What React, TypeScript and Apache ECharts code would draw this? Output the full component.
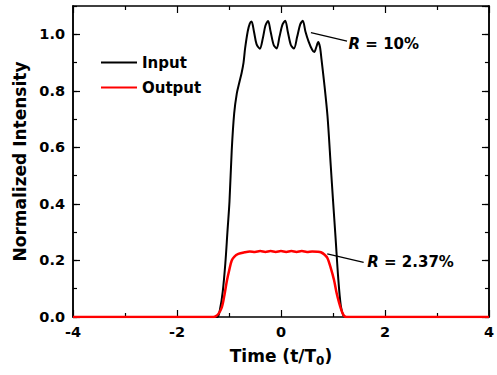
import React, { useEffect, useRef } from "react";
import * as echarts from "echarts";

const FONT = "'DejaVu Sans', 'Liberation Sans', Arial, sans-serif";

const seriesNames = ["Input", "Output"];
const xTickValues = [-4, -2, 0, 2, 4];

const timeInput = [
  -4, -1.3, -1.22, -1.17, -1.12, -1.07, -1.03, -0.99, -0.947, -0.9, -0.85, -0.8,
  -0.756, -0.72, -0.69, -0.64, -0.6, -0.566, -0.52, -0.47, -0.407, -0.35, -0.3,
  -0.248, -0.2, -0.14, -0.083, -0.03, 0.03, 0.082, 0.13, 0.19, 0.25, 0.31, 0.37,
  0.419, 0.47, 0.53, 0.6, 0.64, 0.68, 0.716, 0.75, 0.78, 0.83, 0.895, 0.958, 1.0,
  1.05, 1.1, 1.15, 1.2, 1.25, 4,
];
const intensityInput = [
  0, 0, 0.0, 0.03, 0.09, 0.19, 0.3, 0.41, 0.59, 0.72, 0.79, 0.83,
  0.864, 0.9, 0.95, 1.01, 1.038, 1.045, 1.01, 0.965, 0.949, 0.985, 1.03,
  1.047, 1.01, 0.962, 0.95, 0.99, 1.035, 1.048, 1.01, 0.962, 0.95, 0.99, 1.035,
  1.048, 1.01, 0.975, 0.945, 0.937, 0.955, 0.973, 0.955, 0.91, 0.83, 0.71, 0.533, 0.415,
  0.28, 0.14, 0.04, 0.005, 0, 0,
];

const timeOutput = [
  -4, -1.3, -1.25, -1.2, -1.14, -1.09, -1.04, -0.99, -0.947, -0.9, -0.82, -0.7,
  -0.6, -0.5, -0.4, -0.3, -0.2, -0.1, 0, 0.1, 0.2, 0.3, 0.4, 0.5, 0.6, 0.7,
  0.768, 0.84, 0.895, 0.95, 1.02, 1.07, 1.12, 1.17, 1.21, 1.26, 4,
];
const intensityOutput = [
  0, 0, 0.003, 0.012, 0.033, 0.075, 0.128, 0.17, 0.2, 0.213, 0.223, 0.229,
  0.232, 0.23, 0.233, 0.23, 0.233, 0.23, 0.233, 0.23, 0.233, 0.23, 0.233, 0.23, 0.232, 0.231,
  0.229, 0.22, 0.208, 0.178, 0.131, 0.085, 0.049, 0.02, 0.005, 0, 0,
];

const annotationLabels = ["10%", "2.37%"];
const annotationFrom = [[0.576, 1.006], [0.89, 0.223]];
const annotationTo = [[1.27, 0.976], [1.59, 0.193]];
const annotationText = [[1.3, 0.965], [1.66, 0.195]];

export default function App() {
  const ref = useRef<HTMLDivElement>(null);
  useEffect(() => {
    if (!ref.current) return;
    const chart = echarts.init(ref.current, undefined, { renderer: "svg" });
    const axisLine = { show: true, onZero: false, lineStyle: { color: "#000", width: 1.5 } };
    const tickLine = { color: "#000", width: 1.2 };
    const labelStyle = { fontSize: 14.5, fontWeight: "bold" as const, color: "#000", fontFamily: FONT };
    const xCommon = {
      type: "value" as const,
      min: -4,
      max: 4,
      interval: 2,
      axisLine,
      axisTick: { show: true, inside: true, length: 7, lineStyle: tickLine },
      minorTick: { show: true, splitNumber: 2, length: 4, lineStyle: tickLine },
      splitLine: { show: false },
      minorSplitLine: { show: false },
    };
    const yMajor = {
      type: "value" as const,
      min: 0,
      max: 1.1,
      interval: 0.2,
      axisLine,
      axisTick: { show: true, inside: true, length: 7, lineStyle: tickLine },
      splitLine: { show: false },
    };
    const yMinor = {
      type: "value" as const,
      min: 0,
      max: 1.1,
      interval: 0.1,
      axisLine,
      axisTick: { show: true, inside: true, length: 4, lineStyle: tickLine },
      axisLabel: { show: false },
      splitLine: { show: false },
    };
    chart.setOption({
      animation: false,
      backgroundColor: "#fff",
      textStyle: { fontFamily: FONT },
      grid: { left: 73, right: 3, top: 6, bottom: 58 },
      legend: {
        data: seriesNames,
        orient: "vertical",
        left: 100,
        top: 55,
        padding: 0,
        itemWidth: 36,
        itemHeight: 14,
        itemGap: 10,
        itemStyle: { opacity: 0 },
        textStyle: { fontSize: 15, fontWeight: "bold", color: "#000", fontFamily: FONT },
      },
      xAxis: [
        {
          ...xCommon,
          position: "bottom",
          axisLabel: {
            ...labelStyle,
            margin: 7,
            customValues: xTickValues,
            formatter: (v: number) => String(v),
          },
          name: "Time (t/T{sub|0})",
          nameLocation: "middle",
          nameGap: 28,
          nameTextStyle: {
            fontSize: 17,
            fontWeight: "bold",
            color: "#000",
            fontFamily: FONT,
            rich: {
              sub: { fontSize: 12, fontWeight: "bold", color: "#000", fontFamily: FONT, padding: [10, 0, 0, 0] },
            },
          },
        },
        { ...xCommon, position: "top", axisLabel: { show: false } },
      ],
      yAxis: [
        {
          ...yMajor,
          position: "left",
          axisLabel: {
            ...labelStyle,
            margin: 8,
            showMaxLabel: false,
            formatter: (v: number) => (Math.abs(v - 1.1) < 1e-6 ? "" : v.toFixed(1)),
          },
          name: "Normalized Intensity",
          nameLocation: "middle",
          nameGap: 43,
          nameTextStyle: { fontSize: 17, fontWeight: "bold", color: "#000", fontFamily: FONT },
        },
        { ...yMinor, position: "left" },
        { ...yMajor, position: "right", axisLabel: { show: false } },
        { ...yMinor, position: "right" },
      ],
      series: [
        {
          name: seriesNames[0],
          type: "line",
          xAxisIndex: 0,
          yAxisIndex: 0,
          symbol: "none",
          showSymbol: false,
          smooth: 0.3,
          lineStyle: { color: "#000", width: 2 },
          itemStyle: { color: "#000" },
          data: timeInput.map((t, i) => [t, intensityInput[i]]),
        },
        {
          name: seriesNames[1],
          type: "line",
          xAxisIndex: 0,
          yAxisIndex: 0,
          symbol: "none",
          showSymbol: false,
          smooth: 0.3,
          lineStyle: { color: "#ff0000", width: 2.5 },
          itemStyle: { color: "#ff0000" },
          data: timeOutput.map((t, i) => [t, intensityOutput[i]]),
        },
      ],
    });

    const graphics: any[] = [];
    annotationLabels.forEach((label, i) => {
      const a = chart.convertToPixel({ seriesIndex: 0 }, annotationFrom[i]) as number[];
      const b = chart.convertToPixel({ seriesIndex: 0 }, annotationTo[i]) as number[];
      const c = chart.convertToPixel({ seriesIndex: 0 }, annotationText[i]) as number[];
      graphics.push({
        type: "line",
        shape: { x1: a[0], y1: a[1], x2: b[0], y2: b[1] },
        style: { stroke: "#000", lineWidth: 1.2 },
        z: 10,
      });
      graphics.push({
        type: "text",
        x: c[0],
        y: c[1],
        z: 10,
        style: {
          text: `{i|R}{n| = ${label}}`,
          verticalAlign: "middle",
          align: "left",
          rich: {
            i: { fontStyle: "italic", fontWeight: "bold", fontSize: 15, fontFamily: FONT, fill: "#000" },
            n: { fontWeight: "bold", fontSize: 15, fontFamily: FONT, fill: "#000" },
          },
        },
      });
    });
    chart.setOption({ graphic: graphics });

    return () => chart.dispose();
  }, []);
  return (
    <div
      ref={ref}
      style={{ position: "fixed", left: 0, top: 0, width: 497, height: 375, background: "#fff" }}
    />
  );
}
